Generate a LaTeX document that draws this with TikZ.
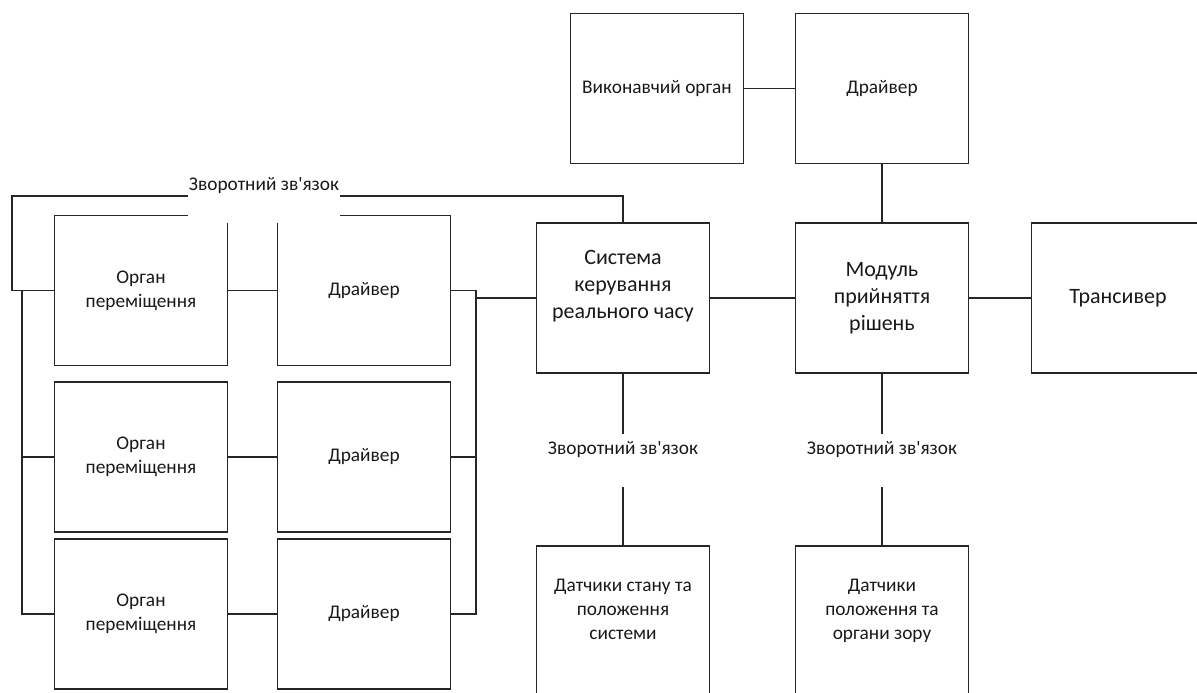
\documentclass[tikz,border=0pt]{standalone}
\usepackage{fontspec}
\setmainfont{Carlito}[Ligatures=TeXOff]
\begin{document}
\begin{tikzpicture}[x=0.02cm, y=-0.02cm, line width=0.9pt, draw=black!85,
  block/.style={draw=black!85, minimum width=3.46cm, minimum height=3cm,
    align=center, inner sep=2pt, text=black!90,
    font=\fontsize{11}{13.5}\selectfont},
  bigblock/.style={block, font=\fontsize{12.5}{15.5}\selectfont},
  fbnote/.style={inner sep=0pt, text height=11pt, text depth=18.5pt,
    minimum width=3.04cm, fill=white, text=black!90,
    font=\fontsize{11}{13.5}\selectfont}]
  \useasboundingbox (0,0) rectangle (1197,693);
  \clip (0,0) rectangle (1197,693);

  % upper chain
  \node[block] (exec) at (657,88.5) {Виконавчий орган};
  \node[block] (drvtop) at (882,88.5) {Драйвер};
  \node[bigblock] (rtc) at (623,298) {Система\\керування\\реального часу\\\mbox{}};
  \node[bigblock] (dec) at (882,298) {Модуль\\прийняття\\рішень};
  \node[bigblock] (trx) at (1118,298) {Трансивер};
  \node[block] (sens1) at (623,621) {Датчики стану та\\положення\\системи\\\mbox{}};
  \node[block] (sens2) at (882,621) {Датчики\\положення та\\органи зору\\\mbox{}};
  \node[fbnote, anchor=north] (fb2) at (623,434) {Зворотний зв'язок};
  \node[fbnote, anchor=north] (fb3) at (882,434) {Зворотний зв'язок};

  % movers and their drivers
  \node[block] (org1) at (141,290.5) {Орган\\переміщення};
  \node[block] (org2) at (141,457) {Орган\\переміщення};
  \node[block] (org3) at (141,614) {Орган\\переміщення};
  \node[block] (drv1) at (364,290.5) {Драйвер};
  \node[block] (drv2) at (364,457) {Драйвер};
  \node[block] (drv3) at (364,614) {Драйвер};

  \draw (exec) -- (drvtop);
  \draw (drvtop) -- (dec);
  \draw (rtc) -- (dec);
  \draw (dec) -- (trx);
  \draw (rtc) -- (fb2);
  \draw (fb2) -- (sens1);
  \draw (dec) -- (fb3);
  \draw (fb3) -- (sens2);
  \draw (org1) -- (drv1);
  \draw (org2) -- (drv2);
  \draw (org3) -- (drv3);

  \coordinate (busL) at (22,0);
  \coordinate (busR) at (476,0);
  \coordinate (loopL) at (12,196);
  \draw (busL |- org1.west) |- (org3.west);
  \draw (busL |- org2.west) -- (org2.west);
  \draw (drv1.east) -- (busR |- drv1.east) |- (drv3.east);
  \draw (drv2.east) -- (busR |- drv2.east);
  \draw (busR |- rtc.west) -- (rtc.west);
  \draw (rtc.north) |- (loopL) |- (org1.west);

  \node[fbnote, anchor=north] (fb1) at (264,170) {Зворотний зв'язок};
\end{tikzpicture}
\end{document}
